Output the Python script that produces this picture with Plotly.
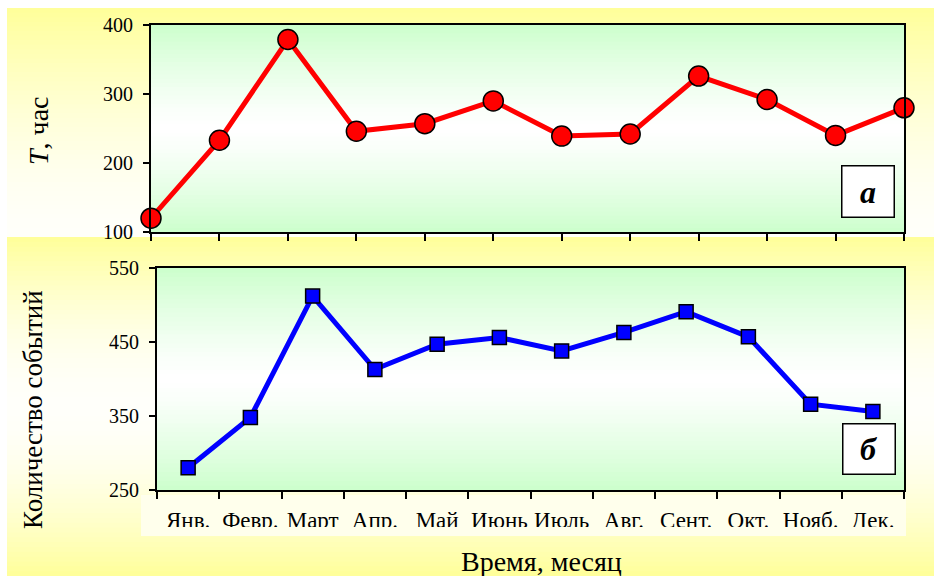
import plotly.graph_objects as go

# ---- data ----
months = ["Янв.", "Февр.", "Март", "Апр.", "Май", "Июнь", "Июль", "Авг.", "Сент.", "Окт.", "Нояб.", "Дек."]
hours = [120, 233, 379, 246, 257, 290, 239, 242, 326, 292, 240, 280]
events = [280, 348, 512, 413, 447, 456, 438, 463, 491, 457, 366, 356]
top_ticks = [100, 200, 300, 400]
bottom_ticks = [250, 350, 450, 550]

W, H = 934, 576
FONT = "Liberation Serif"


def px(x):
    return x / W


def py(y):
    return 1 - y / H


def mix(c1, c2, f):
    return "rgb(%d,%d,%d)" % tuple(round(a * f + b * (1 - f)) for a, b in zip(c1, c2))


shapes = []


def bands(x0, x1, y0, y1, n, color_fn, xref="paper", yref="paper"):
    step = (y1 - y0) / n
    for i in range(n):
        tm = (i + 0.5) / n
        shapes.append(dict(type="rect", xref=xref, yref=yref, x0=x0, x1=x1,
                           y0=y0 + step * i, y1=y0 + step * (i + 1) + (step * 0.3 if i < n - 1 else 0),
                           fillcolor=color_fn(tm), line=dict(width=0), layer="below"))


YEL = (255, 255, 153)
WHT = (255, 255, 250)
GRN = (204, 255, 204)
PALE = "rgb(255,255,236)"

# page background: top chart (yellow -> white)
bands(px(7), 1, py(8), py(237), 50, lambda t: mix(YEL, WHT, (1 - t) ** 1.6))
# bottom chart (yellow -> white -> yellow)
bands(px(7), 1, py(237), 0, 70, lambda t: mix(YEL, WHT, abs(2 * t - 1) ** 1.8))
# pale strip behind month labels
shapes.append(dict(type="rect", xref="paper", yref="paper", x0=px(141), x1=px(906), y0=py(495), y1=py(536),
                   fillcolor=PALE, line=dict(width=0), layer="below"))
# plot-area green gradients
bands(0, 1, 1, 0, 50, lambda t: mix(GRN, (255, 255, 255), abs(2 * t - 1) ** 1.3), xref="x domain", yref="y domain")
bands(0, 1, 1, 0, 50, lambda t: mix(GRN, (255, 255, 255), abs(2 * t - 1) ** 1.3), xref="x2 domain", yref="y2 domain")
# the month-label strip crops the bottom of the labels in the original
shapes.append(dict(type="rect", xref="paper", yref="paper", x0=px(141), x1=px(906), y0=py(536), y1=py(527),
                   fillcolor=PALE, line=dict(width=0), layer="above"))

fig = go.Figure()
fig.add_trace(go.Scatter(
    x=list(range(len(months))), y=hours, xaxis="x", yaxis="y", mode="lines+markers",
    line=dict(color="#FF0000", width=5),
    marker=dict(symbol="circle", size=20, color="#FF0000", line=dict(color="black", width=1.5)),
    cliponaxis=False, showlegend=False, hoverinfo="x+y"))
fig.add_trace(go.Scatter(
    x=months, y=events, xaxis="x2", yaxis="y2", mode="lines+markers",
    line=dict(color="#0000FF", width=5),
    marker=dict(symbol="square", size=14, color="#0000FF", line=dict(color="black", width=1.5)),
    cliponaxis=False, showlegend=False, hoverinfo="x+y"))

axis_common = dict(showline=True, linecolor="black", linewidth=2, mirror=True, showgrid=False,
                   zeroline=False, ticks="outside", tickcolor="black", tickwidth=1.5, automargin=False,
                   tickfont=dict(family=FONT, size=20, color="black"))

fig.update_layout(
    width=W, height=H, autosize=False,
    margin=dict(l=0, r=0, t=0, b=0, pad=0, autoexpand=False),
    paper_bgcolor="white", plot_bgcolor="rgba(0,0,0,0)",
    font=dict(family=FONT, color="black"),
    showlegend=False,
    shapes=shapes,
    xaxis=dict(domain=[px(151), px(904)], anchor="y", range=[0, len(months) - 1],
               tickvals=list(range(len(months))), showticklabels=False, ticklen=7, **axis_common),
    yaxis=dict(domain=[py(232), py(25)], anchor="x", range=[100, 400], tickvals=top_ticks,
               ticklen=6, ticklabelstandoff=6, **axis_common),
    xaxis2=dict(domain=[px(157), px(904)], anchor="y2", type="category", categoryarray=months,
                categoryorder="array", range=[-0.5, len(months) - 0.5], tickson="boundaries",
                ticklen=7, ticklabelstandoff=8, tickangle=0,
                **{**axis_common, "tickfont": dict(family=FONT, size=23, color="black")}),
    yaxis2=dict(domain=[py(490), py(268)], anchor="x2", range=[250, 550], tickvals=bottom_ticks,
                ticklen=6, ticklabelstandoff=6, **axis_common),
    annotations=[
        dict(text="<i>T</i>, час", xref="paper", yref="paper", x=px(38), y=py(131), textangle=-90,
             showarrow=False, font=dict(family=FONT, size=28, color="black"), xanchor="center", yanchor="middle"),
        dict(text="Количество событий", xref="paper", yref="paper", x=px(33), y=py(410), textangle=-90,
             showarrow=False, font=dict(family=FONT, size=27, color="black"), xanchor="center", yanchor="middle"),
        dict(text="Время, месяц", xref="paper", yref="paper", x=px(541), y=py(561),
             showarrow=False, font=dict(family=FONT, size=28, color="black"), xanchor="center", yanchor="middle"),
        dict(text="<b><i>а</i></b>", xref="paper", yref="paper", x=px(867.5), y=py(192),
             showarrow=False, font=dict(family=FONT, size=32, color="black"), xanchor="center", yanchor="middle",
             bgcolor="white", bordercolor="black", borderwidth=1.5, borderpad=0, width=51, height=50),
        dict(text="<b><i>б</i></b>", xref="paper", yref="paper", x=px(868.5), y=py(448.5),
             showarrow=False, font=dict(family=FONT, size=32, color="black"), xanchor="center", yanchor="middle",
             bgcolor="white", bordercolor="black", borderwidth=1.5, borderpad=0, width=51, height=49),
    ],
)

fig.write_html("out.html", config={"displayModeBar": False},
               post_script="document.body.style.margin='0';document.body.style.padding='0';")
